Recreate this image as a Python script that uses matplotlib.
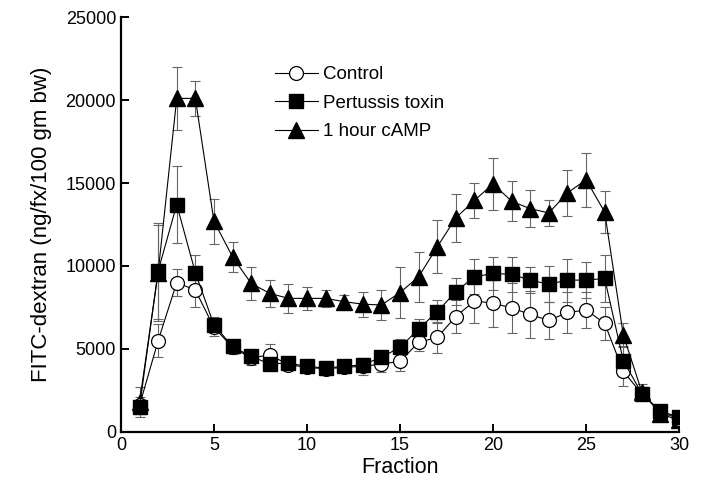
import matplotlib.pyplot as plt

plt.rcParams['font.family'] = ['Liberation Sans', 'DejaVu Sans']

fraction = list(range(1, 31))

control = [1600, 5500, 9000, 8550, 6300, 5100, 4450, 4650, 4050, 3900,
           3800, 3900, 3950, 4100, 4250, 5400, 5700, 6950, 7900, 7750,
           7480, 7080, 6720, 7200, 7350, 6550, 3650, 2300, 1200, 800]
control_err = [500, 1000, 800, 1000, 500, 400, 400, 650, 300, 300,
               300, 300, 500, 500, 600, 550, 950, 1000, 1350, 1400,
               1500, 1400, 1120, 1240, 1100, 1000, 860, 400, 300, 200]

pertussis = [1500, 9700, 13700, 9600, 6450, 5150, 4550, 4100, 4150, 3950,
             3850, 3950, 4050, 4500, 5100, 6200, 7250, 8450, 9350, 9550,
             9500, 9150, 8900, 9150, 9150, 9250, 4300, 2300, 1250, 900]
pertussis_err = [300, 2900, 2300, 1060, 500, 300, 300, 300, 300, 300,
                 300, 300, 300, 400, 500, 600, 700, 800, 1050, 1000,
                 1050, 800, 1080, 1300, 1100, 1400, 800, 400, 300, 200]

camp = [1800, 9600, 20100, 20100, 12700, 10550, 8950, 8350, 8050, 8050,
        8050, 7850, 7700, 7650, 8400, 9350, 11150, 12900, 13950, 14950,
        13900, 13450, 13200, 14400, 15200, 13250, 5850, 2400, 1100, 700]
camp_err = [900, 2900, 1900, 1050, 1350, 900, 1000, 800, 860, 700,
            500, 400, 750, 900, 1550, 1500, 1600, 1450, 1050, 1550,
            1200, 1100, 760, 1400, 1630, 1260, 700, 500, 300, 200]

fig = plt.figure(figsize=(7.03, 4.87), dpi=100)
ax = fig.add_axes([0.172, 0.113, 0.794, 0.852])

# error bars first, markers on top
for y, e, z in [(camp, camp_err, 1), (control, control_err, 2), (pertussis, pertussis_err, 3)]:
    ax.errorbar(fraction, y, yerr=e, fmt='none', ecolor='#666666',
                elinewidth=0.8, capsize=3.5, capthick=0.8, zorder=z)

l3, = ax.plot(fraction, camp, '-^', color='black', lw=0.8, ms=12,
              mfc='black', mec='black', zorder=4, label='1 hour cAMP')
l1, = ax.plot(fraction, control, '-o', color='black', lw=0.8, ms=10,
              mfc='white', mec='black', mew=0.9, zorder=5, label='Control')
l2, = ax.plot(fraction, pertussis, '-s', color='black', lw=0.8, ms=10,
              mfc='black', mec='black', zorder=6, label='Pertussis toxin')

ax.legend(handles=[l1, l2, l3], loc='upper left', bbox_to_anchor=(0.245, 0.922),
          frameon=False, fontsize=13.5, handlelength=2.3, handletextpad=0.3,
          labelspacing=0.6, numpoints=1)

ax.set_xlim(0, 30)
ax.set_ylim(0, 25000)
ax.set_xticks([0, 5, 10, 15, 20, 25, 30])
ax.set_yticks([0, 5000, 10000, 15000, 20000, 25000])
ax.spines['top'].set_visible(False)
ax.spines['right'].set_visible(False)
ax.spines['left'].set_linewidth(1.6)
ax.spines['bottom'].set_linewidth(1.6)
ax.tick_params(direction='in', length=6, width=1.4, labelsize=13)
ax.set_xlabel('Fraction', fontsize=15.5, labelpad=2)
ax.set_ylabel('FITC-dextran (ng/fx/100 gm bw)', fontsize=16, labelpad=10)

fig.savefig('out.png', dpi=100)
